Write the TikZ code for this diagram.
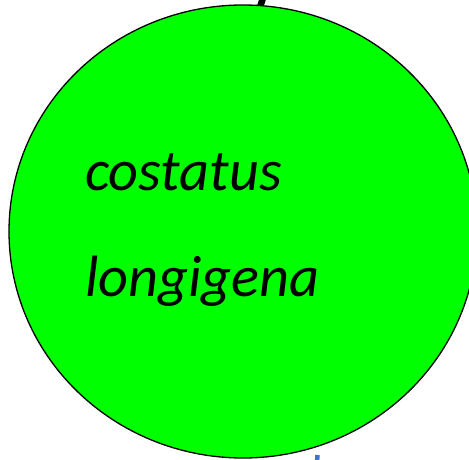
\documentclass[tikz,border=0pt]{standalone}
\usepackage{fontspec}
\setmainfont{Carlito}
\usetikzlibrary{shapes.geometric}
\definecolor{leafgreen}{RGB}{0,255,0}
\definecolor{markblue}{RGB}{70,114,196}
\begin{document}
\begin{tikzpicture}[x=1pt,y=-1pt,
  blob/.style={ellipse,draw=black,fill=leafgreen,line width=1.3pt,inner sep=0pt,minimum width=468pt,minimum height=453pt},
  sptext/.style={anchor=base west,inner sep=0pt,font=\fontsize{58.3}{60}\selectfont\itshape}]
\useasboundingbox (0,0) rectangle (469,460);
\fill[white] (0,0) rectangle (469,460);
\coordinate (stemtop) at (263,-2);
\coordinate (stembot) at (260,7);
\draw[line width=6.5pt] (stemtop) -- (stembot);
\node[blob] (cell) at (243,231.5) {};
\node[sptext] (t1) at (85,190) {costatus};
\node[sptext] (t2) at (85,296) {longigena};
\coordinate (bm1) at (317.5,455);
\coordinate (bm2) at (317,462);
\draw[markblue,line width=4.5pt] (bm1) -- (bm2);
\end{tikzpicture}
\end{document}
